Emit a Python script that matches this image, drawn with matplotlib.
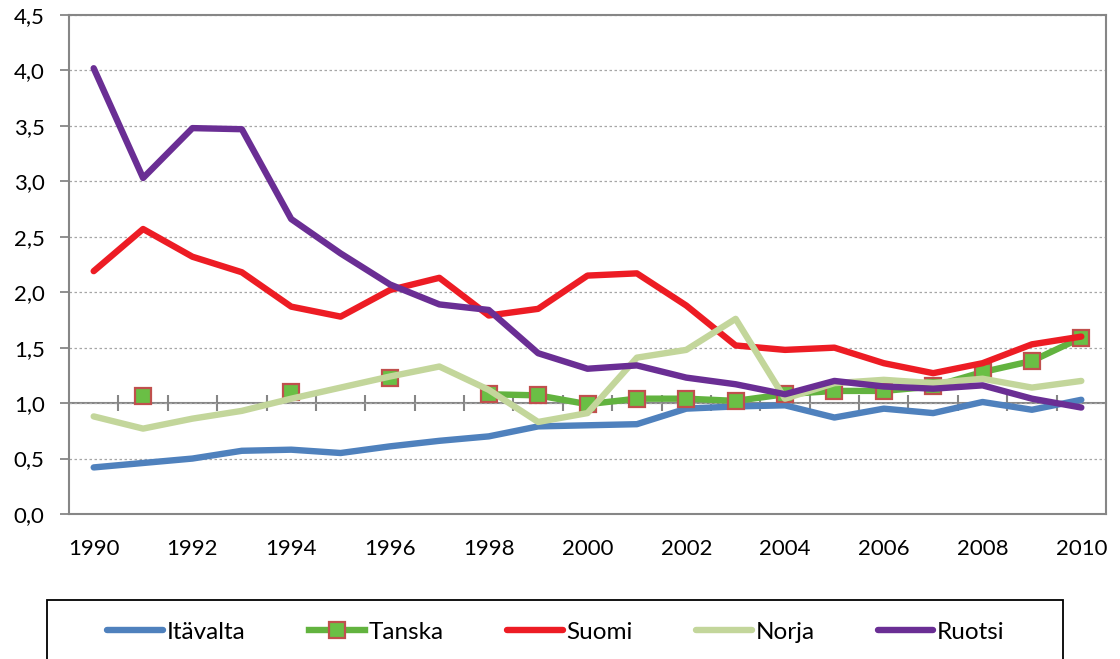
import numpy as np
import matplotlib
matplotlib.use("Agg")
import matplotlib.pyplot as plt
from matplotlib.patches import Rectangle
from matplotlib.ticker import FuncFormatter

plt.rcParams['font.family'] = ['Lato', 'DejaVu Sans']

years = list(range(1990, 2011))
itavalta = [0.42, 0.46, 0.50, 0.57, 0.58, 0.55, 0.61, 0.66, 0.70, 0.79, 0.80,
            0.81, 0.95, 0.97, 0.98, 0.87, 0.95, 0.91, 1.01, 0.94, 1.03]
tanska = [np.nan, 1.06, np.nan, np.nan, 1.10, np.nan, 1.23, np.nan, 1.08, 1.07, 0.99,
          1.04, 1.04, 1.02, 1.08, 1.11, 1.11, 1.15, 1.28, 1.38, 1.59]
suomi = [2.19, 2.57, 2.32, 2.18, 1.87, 1.78, 2.02, 2.13, 1.79, 1.85, 2.15,
         2.17, 1.88, 1.52, 1.48, 1.50, 1.36, 1.27, 1.36, 1.53, 1.60]
norja = [0.88, 0.77, 0.86, 0.93, 1.04, 1.14, 1.24, 1.33, 1.12, 0.83, 0.91,
         1.41, 1.48, 1.76, 1.04, 1.18, 1.21, 1.18, 1.22, 1.14, 1.20]
ruotsi = [4.02, 3.03, 3.48, 3.47, 2.66, 2.35, 2.07, 1.89, 1.84, 1.45, 1.31,
          1.34, 1.23, 1.17, 1.08, 1.20, 1.15, 1.13, 1.16, 1.04, 0.96]

gray = '#868686'

fig = plt.figure(figsize=(11.2, 6.59), dpi=100)
ax = fig.add_axes([69 / 1120, 1 - 514 / 659, (1106 - 69) / 1120, (514 - 15) / 659])

lw = 4.6
ax.plot(years, itavalta, color='#4F81BD', lw=lw, label='Itävalta', solid_capstyle='round')
ax.plot(years, tanska, color='#62B33F', lw=lw, marker='s', markersize=11,
        markerfacecolor='#6ABF45', markeredgecolor='#C0504D', markeredgewidth=1.6,
        label='Tanska')
ax.plot(years, suomi, color='#ED1C24', lw=lw, label='Suomi', solid_capstyle='round')
ax.plot(years, norja, color='#C3D69B', lw=lw, label='Norja', solid_capstyle='round')
ax.plot(years, ruotsi, color='#6A2E94', lw=lw, label='Ruotsi', solid_capstyle='round')

ymin, ymax = 0, 4.5
ax.set_ylim(ymin, ymax)
ax.set_xlim(1989.5, 2010.5)
ax.set_yticks(np.arange(0, 4.51, 0.5))
ax.yaxis.set_major_formatter(FuncFormatter(lambda v, p: f'{v:.1f}'.replace('.', ',')))
ax.set_xticks(years[::2])
ax.tick_params(axis='x', length=0, pad=18, labelsize=16, colors='black')
ax.tick_params(axis='y', length=6.5, width=1.3, color=gray, pad=11, labelsize=16)
ax.grid(axis='y', color='#A6A6A6', lw=0.9, ls=(0, (2, 2)))
for s in ax.spines.values():
    s.set_color(gray)
    s.set_linewidth(1.5)

# horizontal axis crossing at 1.0 with tick marks between categories
sec = ax.secondary_xaxis((1.0 - ymin) / (ymax - ymin))
sec.set_zorder(0)
sec.set_xticks(np.array(years[:-1]) + 0.5)
sec.tick_params(axis='x', direction='inout', length=12, width=1.5, color=gray,
                labelbottom=False, labeltop=False)
sec.spines['bottom'].set_color(gray)
sec.spines['bottom'].set_linewidth(1.5)

fig.legend(loc='center', bbox_to_anchor=(556 / 1120, 1 - 632 / 659), ncol=5,
           frameon=False, fontsize=17.5, handlelength=2.3, handletextpad=0.15,
           columnspacing=2.6)
fig.patches.append(Rectangle((47 / 1120, -0.05), (1063 - 47) / 1120, 0.05 + 59 / 659,
                             transform=fig.transFigure, fill=False, ec='black', lw=1.3))

fig.savefig('out.png', dpi=100)
